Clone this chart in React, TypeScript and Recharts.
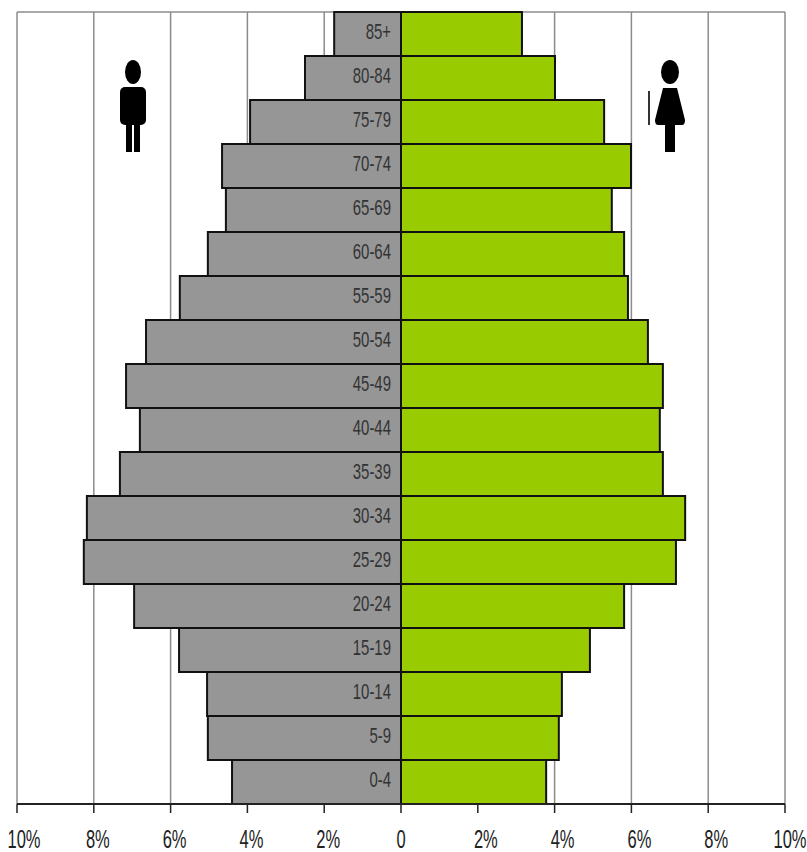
import React from "react";
import { BarChart, Bar, XAxis, YAxis, CartesianGrid, LabelList } from "recharts";

const ageGroups = ["85+","80-84","75-79","70-74","65-69","60-64","55-59","50-54","45-49","40-44","35-39","30-34","25-29","20-24","15-19","10-14","5-9","0-4"];
const maleShare = [1.74,2.5,3.93,4.66,4.56,5.03,5.76,6.64,7.16,6.8,7.32,8.18,8.26,6.95,5.78,5.05,5.03,4.4];
const femaleShare = [3.15,4.01,5.29,5.99,5.49,5.81,5.91,6.43,6.82,6.74,6.82,7.4,7.16,5.81,4.92,4.19,4.11,3.78];
const xTicks = [-10,-8,-6,-4,-2,0,2,4,6,8,10];

const rows = ageGroups.map((age, i) => ({ age, male: -maleShare[i], female: femaleShare[i] }));
const FONT = "'Liberation Sans',sans-serif";

const AgeLabel = (props: any) => {
  const { x, y, width, height, value } = props;
  const right = Math.max(x, x + width);
  return (
    <text
      transform={`translate(${right - 10},${y + height / 2 + 5}) scale(0.68,1)`}
      textAnchor="end"
      fontFamily={FONT}
      fontSize={22}
      fill="#333"
    >
      {value}
    </text>
  );
};

const tickShift = (v: number) => {
  if (v === -10) return 7;
  if (v === 10) return 5;
  if (v === 0) return 0;
  return v < 0 ? 4 : 8;
};

const XTick = (props: any) => {
  const { x, y, payload } = props;
  const v = payload.value;
  return (
    <text
      transform={`translate(${x + tickShift(v)},${y + 33}) scale(0.66,1)`}
      textAnchor="middle"
      fontFamily={FONT}
      fontSize={25}
      fill="#222"
    >
      {v === 0 ? "0" : `${Math.abs(v)}%`}
    </text>
  );
};

const Man = () => (
  <svg style={{ position: "absolute", left: 118, top: 58, pointerEvents: "none" }} width={30} height={96} viewBox="0 0 30 96">
    <ellipse cx="15" cy="14" rx="8" ry="12" fill="#000" />
    <rect x="2" y="29" width="26" height="38" rx="5" fill="#000" />
    <rect x="8" y="60" width="6" height="34" fill="#000" />
    <rect x="16" y="60" width="6" height="34" fill="#000" />
  </svg>
);

const Woman = () => (
  <svg style={{ position: "absolute", left: 646, top: 58, pointerEvents: "none" }} width={42} height={96} viewBox="0 0 42 96">
    <ellipse cx="24" cy="14" rx="9" ry="12" fill="#000" />
    <path d="M17 30 H31 L39 62 Q39 67 36 67 H12 Q9 67 9 62 Z" fill="#000" />
    <rect x="19" y="60" width="10" height="34" fill="#000" />
    <rect x="2" y="33" width="2" height="34" fill="#333" />
  </svg>
);

export default function App() {
  return (
    <div style={{ position: "absolute", left: 0, top: 0, width: 807, height: 852, background: "#fff" }}>
      <BarChart
        width={807}
        height={852}
        data={rows}
        layout="vertical"
        stackOffset="sign"
        barCategoryGap={0}
        margin={{ top: 12, right: 22, bottom: 0, left: 17 }}
      >
        <CartesianGrid stroke="#8c8c8c" strokeWidth={1.5} horizontalPoints={[12]} syncWithTicks />
        <XAxis
          type="number"
          domain={[-10, 10]}
          ticks={xTicks}
          interval={0}
          height={48}
          tick={<XTick />}
          tickSize={9}
          stroke="#222"
          axisLine={{ stroke: "#222", strokeWidth: 2 }}
          tickLine={{ stroke: "#222", strokeWidth: 1.5 }}
        />
        <YAxis type="category" dataKey="age" hide />
        <Bar dataKey="male" stackId="pop" fill="#969696" stroke="#111" strokeWidth={2} isAnimationActive={false}>
          <LabelList dataKey="age" content={<AgeLabel />} />
        </Bar>
        <Bar dataKey="female" stackId="pop" fill="#99cc00" stroke="#111" strokeWidth={2} isAnimationActive={false} />
      </BarChart>
      <Man />
      <Woman />
    </div>
  );
}
